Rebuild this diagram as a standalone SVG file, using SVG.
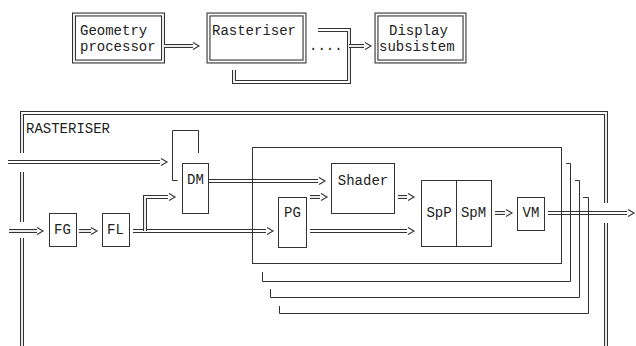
<svg xmlns="http://www.w3.org/2000/svg" xmlns:xlink="http://www.w3.org/1999/xlink" width="636" height="346" viewBox="0 0 636 346">
<style>
  .o { fill: none; stroke: #333; stroke-width: 4; }
  .i { fill: none; stroke: #fff; stroke-width: 1.8; }
  .s { fill: none; stroke: #333; stroke-width: 1; }
  .ah { fill: none; stroke: #333; stroke-width: 1.1; }
  text { font-family: "Liberation Mono", "DejaVu Sans Mono", monospace; font-size: 14px; fill: #222; }
  .c { text-anchor: middle; }
</style>
<defs>
  <path id="ah" d="M-6,-3.5 L0,0 L-6,3.5"/>
  <path id="p1" d="M164,46 H193"/>
  <path id="p2" d="M234,70 V82 H349 V30 H318"/>
  <path id="p2b" d="M349,46 H364"/>
  <path id="p3" d="M8,162 H160"/>
  <path id="p4" d="M9,231 H37"/>
  <path id="p5" d="M79,231 H91"/>
  <path id="p6" d="M133,231 H266"/>
  <path id="p7" d="M145,231 V197 H168"/>
  <path id="p8" d="M209,181 H318"/>
  <path id="p9" d="M310,197 H320"/>
  <path id="p10" d="M398,197 H407"/>
  <path id="p11" d="M310,231 H407"/>
  <path id="p12" d="M495,213 H505"/>
  <path id="p13" d="M548,213 H627"/>
  <path id="ob" d="M22,153 V113 H606 V203 M22,172 V222 M22,238 V346 M606,223 V346"/>
</defs>

<g id="geometry-processor">
  <rect class="o" x="74" y="14.5" width="89" height="47"/>
  <rect class="i" x="74" y="14.5" width="89" height="47"/>
  <text x="80" y="34.5">Geometry</text>
  <text x="80" y="51">processor</text>
</g>
<g id="rasteriser">
  <rect class="o" x="208.5" y="14.5" width="96" height="47"/>
  <rect class="i" x="208.5" y="14.5" width="96" height="47"/>
  <text x="212" y="34.5">Rasteriser</text>
</g>
<g id="display-subsistem">
  <rect class="o" x="376.5" y="14.5" width="88" height="47"/>
  <rect class="i" x="376.5" y="14.5" width="88" height="47"/>
  <text x="389" y="34.5">Display</text>
  <text x="379" y="51">subsistem</text>
</g>

<g id="rasteriser-block">
  <use xlink:href="#ob" class="o"/>
  <use xlink:href="#ob" class="i"/>
  <text x="26" y="133">RASTERISER</text>
</g>

<g id="connectors">
  <use xlink:href="#p1" class="o"/><use xlink:href="#p1" class="i"/>
  <use xlink:href="#p2" class="o"/><use xlink:href="#p2" class="i"/>
  <use xlink:href="#p2b" class="o"/><use xlink:href="#p2b" class="i"/>
  <use xlink:href="#p3" class="o"/><use xlink:href="#p3" class="i"/>
  <use xlink:href="#p4" class="o"/><use xlink:href="#p4" class="i"/>
  <use xlink:href="#p5" class="o"/><use xlink:href="#p5" class="i"/>
  <use xlink:href="#p6" class="o"/><use xlink:href="#p6" class="i"/>
  <use xlink:href="#p7" class="o"/><use xlink:href="#p7" class="i"/>
  <use xlink:href="#p8" class="o"/><use xlink:href="#p8" class="i"/>
  <use xlink:href="#p9" class="o"/><use xlink:href="#p9" class="i"/>
  <use xlink:href="#p10" class="o"/><use xlink:href="#p10" class="i"/>
  <use xlink:href="#p11" class="o"/><use xlink:href="#p11" class="i"/>
  <use xlink:href="#p12" class="o"/><use xlink:href="#p12" class="i"/>
  <use xlink:href="#p13" class="o"/><use xlink:href="#p13" class="i"/>
  <use xlink:href="#ah" class="ah" x="199" y="46"/>
  <use xlink:href="#ah" class="ah" x="371" y="46"/>
  <use xlink:href="#ah" class="ah" x="167" y="162"/>
  <use xlink:href="#ah" class="ah" x="43" y="231"/>
  <use xlink:href="#ah" class="ah" x="97" y="231"/>
  <use xlink:href="#ah" class="ah" x="273" y="231"/>
  <use xlink:href="#ah" class="ah" x="175" y="197"/>
  <use xlink:href="#ah" class="ah" x="325" y="181"/>
  <use xlink:href="#ah" class="ah" x="327" y="197"/>
  <use xlink:href="#ah" class="ah" x="414" y="197"/>
  <use xlink:href="#ah" class="ah" x="414" y="231"/>
  <use xlink:href="#ah" class="ah" x="512" y="213"/>
  <use xlink:href="#ah" class="ah" x="634" y="213"/>
  <text x="309" y="50">....</text>
  <path class="s" d="M177.5,180.5 H172.5 V130.5 H198.5 V153"/>
</g>

<g id="pipeline-stack">
  <rect class="s" x="252.5" y="147.5" width="309" height="116"/>
  <path class="s" d="M262.5,272 V281.5 H570.5 V163.5 H566"/>
  <path class="s" d="M270.5,289 V297.5 H579.5 V180.5 H575"/>
  <path class="s" d="M279.5,306 V313.5 H588.5 V197.5 H583"/>
</g>

<g id="FG">
  <rect class="s" x="49.5" y="213.5" width="27" height="33"/>
  <text class="c" x="62.5" y="234">FG</text>
</g>
<g id="FL">
  <rect class="s" x="102.5" y="213.5" width="27" height="33"/>
  <text class="c" x="115.5" y="234">FL</text>
</g>
<g id="DM">
  <rect class="s" x="182.5" y="163.5" width="26" height="50"/>
  <text class="c" x="195.5" y="184">DM</text>
</g>
<g id="PG">
  <rect class="s" x="278.5" y="197.5" width="28" height="50"/>
  <text class="c" x="292.5" y="217">PG</text>
</g>
<g id="Shader">
  <rect class="s" x="331.5" y="163.5" width="63" height="50"/>
  <text class="c" x="363" y="185">Shader</text>
</g>
<g id="SpP">
  <rect class="s" x="421.5" y="180.5" width="35" height="66"/>
  <text class="c" x="439" y="217">SpP</text>
</g>
<g id="SpM">
  <rect class="s" x="456.5" y="180.5" width="35" height="66"/>
  <text class="c" x="473.5" y="217">SpM</text>
</g>
<g id="VM">
  <rect class="s" x="517.5" y="197.5" width="27" height="33"/>
  <text class="c" x="531" y="217">VM</text>
</g>
</svg>
